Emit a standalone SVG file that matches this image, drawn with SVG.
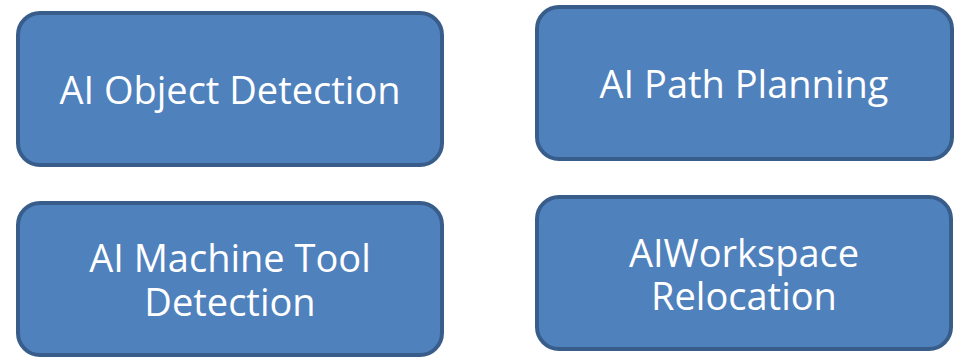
<svg xmlns="http://www.w3.org/2000/svg" width="961" height="361" viewBox="0 0 961 361">
<style>
.box{fill:#4F81BD;stroke:#385D8A;stroke-width:4}
.lbl{font-family:"Open Sans","Noto Sans","Liberation Sans",sans-serif;font-size:38px;fill:#FFFFFF;text-anchor:middle}
</style>
<rect width="961" height="361" fill="#FFFFFF"/>
<g id="connectors"></g>
<g id="node-object-detection">
<rect class="box" x="18" y="13" width="424" height="152" rx="22"/>
<text class="lbl" x="230" y="104">AI Object Detection</text>
</g>
<g id="node-path-planning">
<rect class="box" x="537" y="7" width="415" height="152" rx="22"/>
<text class="lbl" x="744" y="98">AI Path Planning</text>
</g>
<g id="node-machine-tool">
<rect class="box" x="18" y="203" width="424" height="152" rx="22"/>
<text class="lbl" x="230" y="272">AI Machine Tool</text>
<text class="lbl" x="230" y="315.5">Detection</text>
</g>
<g id="node-workspace">
<rect class="box" x="537" y="197" width="414" height="152" rx="22"/>
<text class="lbl" x="744" y="266.5">AIWorkspace</text>
<text class="lbl" x="744" y="310">Relocation</text>
</g>
</svg>
